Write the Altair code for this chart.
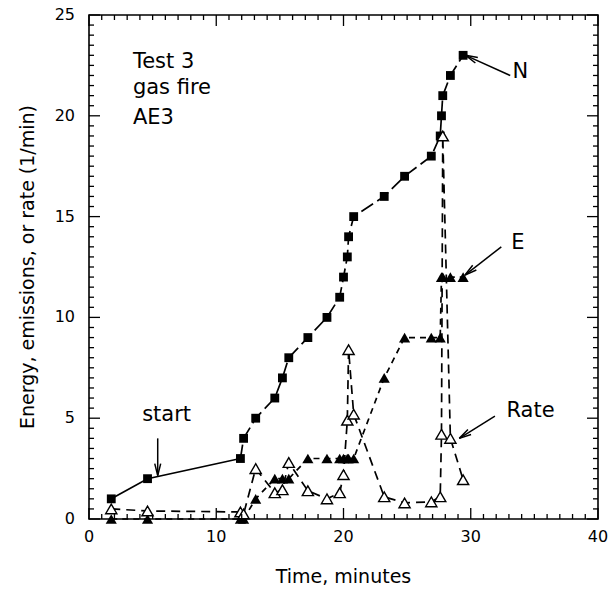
import math
import altair as alt
import pandas as pd

# ---------------- data ----------------
time_min = [1.75, 4.6, 11.9, 12.15, 13.1, 14.6, 15.2, 15.7, 17.2, 18.7, 19.7, 20.0,
            20.3, 20.4, 20.8, 23.2, 24.8, 26.9, 27.6, 27.7, 27.8, 28.4, 29.4]
energy_N = [1, 2, 3, 4, 5, 6, 7, 8, 9, 10, 11, 12, 13, 14, 15, 16, 17, 18, 19, 20,
            21, 22, 23]
emissions_E = [0, 0, 0, 0, 1, 2, 2, 2, 3, 3, 3, 3, 3, 3, 3, 7, 9, 9, 9, 12, 12, 12, 12]
rate = [0.5, 0.4, 0.35, 0.25, 2.5, 1.3, 1.45, 2.8, 1.4, 1.0, 1.3, 2.2, 4.9, 8.4, 5.2,
        1.1, 0.8, 0.85, 1.1, 4.2, 19.0, 4.0, 1.95]

x_ticks = [0, 10, 20, 30, 40]
y_ticks = [0, 5, 10, 15, 20, 25]
x_minor = [v for v in range(0, 41) if v % 10]
y_minor = [k * 0.5 for k in range(51) if k % 10]

x_title = "Time, minutes"
y_title = "Energy, emissions, or rate (1/min)"

note_text = ["Test 3", "gas fire", "AE3"]
note_x = [3.45, 3.45, 3.45]
note_y = [22.35, 21.1, 19.6]

label_text = ["N", "E", "Rate", "start"]
label_x = [33.9, 33.7, 34.7, 6.1]
label_y = [22.15, 13.7, 5.35, 5.15]

arrow_tail_x = [33.1, 32.4, 31.9, 5.4]
arrow_tail_y = [22.0, 13.5, 5.1, 4.0]
arrow_head_x = [29.6, 29.55, 29.1, 5.4]
arrow_head_y = [23.0, 12.1, 4.0, 2.15]

# ---------------- layout ----------------
W, H = 509, 504
FONT = "DejaVu Sans"
X_DOM, Y_DOM = [0, 40], [0, 25]
MINOR, MAJOR = 5, 11          # tick lengths in pixels
YTITLE_GAP = 61               # pixels from the left frame to the y-title centre

df = pd.DataFrame({"t": time_min, "N": energy_N, "E": emissions_E,
                   "Rate": rate, "i": list(range(len(time_min)))})

px_x = W / (X_DOM[1] - X_DOM[0])
px_y = H / (Y_DOM[1] - Y_DOM[0])
angles = []
for tx, ty, hx, hy in zip(arrow_tail_x, arrow_tail_y, arrow_head_x, arrow_head_y):
    dx = (hx - tx) * px_x
    dy = -(hy - ty) * px_y
    angles.append(math.degrees(math.atan2(dx, -dy)) % 360)
arrows = pd.DataFrame({"x1": arrow_tail_x, "y1": arrow_tail_y,
                       "x2": arrow_head_x, "y2": arrow_head_y, "ang": angles})
notes = pd.DataFrame({"txt": note_text, "x": note_x, "y": note_y})
labels = pd.DataFrame({"txt": label_text, "x": label_x, "y": label_y})
xlab = pd.DataFrame({"v": x_ticks, "base": [Y_DOM[0]] * len(x_ticks)})
ylab = pd.DataFrame({"v": y_ticks, "base": [X_DOM[0]] * len(y_ticks)})
xtit = pd.DataFrame({"txt": [x_title], "x": [sum(X_DOM) / 2], "y": [Y_DOM[0]]})
ytit = pd.DataFrame({"txt": [y_title], "x": [X_DOM[0] - YTITLE_GAP / px_x],
                     "y": [sum(Y_DOM) / 2]})

# inward tick glyphs: anchored on the frame, drawn as short strokes pointing inside
UP, DOWN, RIGHT, LEFT = "M0,0L0,-2", "M0,0L0,2", "M0,0L2,0", "M0,0L-2,0"
trows = []
for vals, ln in ((x_minor, MINOR), (x_ticks, MAJOR)):
    for v in vals:
        trows.append((v, Y_DOM[0], UP, ln * ln))
        trows.append((v, Y_DOM[1], DOWN, ln * ln))
for vals, ln in ((y_minor, MINOR), (y_ticks, MAJOR)):
    for v in vals:
        trows.append((X_DOM[0], v, RIGHT, ln * ln))
        trows.append((X_DOM[1], v, LEFT, ln * ln))
tickpts = pd.DataFrame(trows, columns=["tx", "ty", "glyph", "sz"])

xs = alt.Scale(domain=X_DOM, nice=False, zero=False)
ys = alt.Scale(domain=Y_DOM, nice=False, zero=False)


def xn(field="t"):
    return alt.X(f"{field}:Q", scale=xs, axis=None)


def yn(field):
    return alt.Y(f"{field}:Q", scale=ys, axis=None)


LW = 1.7
n_solid = alt.Chart(df.iloc[:3]).mark_line(color="black", strokeWidth=LW).encode(
    x=xn(), y=yn("N"), order="i:Q")
n_dash = alt.Chart(df.iloc[2:]).mark_line(color="black", strokeWidth=LW,
                                          strokeDash=[14, 5]).encode(
    x=xn(), y=yn("N"), order="i:Q")
e_line = alt.Chart(df).mark_line(color="black", strokeWidth=LW, strokeDash=[6, 5]).encode(
    x=xn(), y=yn("E"), order="i:Q")
r_line = alt.Chart(df).mark_line(color="black", strokeWidth=LW, strokeDash=[9, 6]).encode(
    x=xn(), y=yn("Rate"), order="i:Q")

n_pts = alt.Chart(df).mark_point(shape="square", filled=True, color="black",
                                 size=78, opacity=1).encode(x=xn(), y=yn("N"))
e_pts = alt.Chart(df).mark_point(shape="triangle-up", filled=True, color="black",
                                 size=125, opacity=1).encode(x=xn(), y=yn("E"))
r_pts = alt.Chart(df).mark_point(shape="triangle-up", filled=True, fill="white",
                                 stroke="black", strokeWidth=1.4, size=125,
                                 opacity=1).encode(x=xn(), y=yn("Rate"))

# tick labels and axis titles
x_labels = alt.Chart(xlab).mark_text(font=FONT, fontSize=16, baseline="top", dy=10,
                                     color="black").encode(
    x=xn("v"), y=yn("base"), text=alt.Text("v:Q", format="d"))
y_labels = alt.Chart(ylab).mark_text(font=FONT, fontSize=16, align="right",
                                     baseline="middle", dx=-14, color="black").encode(
    x=xn("base"), y=yn("v"), text=alt.Text("v:Q", format="d"))
x_title_mark = alt.Chart(xtit).mark_text(font=FONT, fontSize=19, baseline="top", dy=49,
                                         color="black").encode(
    x=xn("x"), y=yn("y"), text="txt:N")
y_title_mark = alt.Chart(ytit).mark_text(font=FONT, fontSize=19, angle=270,
                                         align="center", baseline="middle",
                                         color="black").encode(
    x=xn("x"), y=yn("y"), text="txt:N")

note_marks = alt.Chart(notes).mark_text(font=FONT, fontSize=21, align="left",
                                        baseline="alphabetic", color="black").encode(
    x=xn("x"), y=yn("y"), text="txt:N")
label_marks = alt.Chart(labels).mark_text(font=FONT, fontSize=21, align="center",
                                          baseline="middle", color="black").encode(
    x=xn("x"), y=yn("y"), text="txt:N")

shafts = alt.Chart(arrows).mark_rule(color="black", strokeWidth=1.5).encode(
    x=xn("x1"), y=yn("y1"), x2="x2:Q", y2="y2:Q")
heads = alt.Chart(arrows).mark_point(
    shape="M -0.42 1.7 L 0 0 L 0.42 1.7", filled=False, color="black",
    strokeWidth=1.5, size=200, opacity=1).encode(
    x=xn("x2"), y=yn("y2"), angle=alt.Angle("ang:Q", scale=None))

tick_marks = alt.Chart(tickpts).mark_point(filled=False, color="black", stroke="black",
                                           strokeWidth=1.3, opacity=1).encode(
    x=xn("tx"), y=yn("ty"),
    shape=alt.Shape("glyph:N", scale=None, legend=None),
    size=alt.Size("sz:Q", scale=None, legend=None))

chart = alt.layer(
    n_solid, n_dash, e_line, r_line, n_pts, e_pts, r_pts,
    x_labels, y_labels, x_title_mark, y_title_mark,
    note_marks, label_marks, shafts, heads, tick_marks
).properties(
    width=W, height=H, autosize="none",
    padding={"left": 89, "top": 15, "right": 12, "bottom": 74},
    background="white"
).configure_view(stroke="black", strokeWidth=1.6)

chart.save("out.html", embed_options={"renderer": "svg", "actions": False})
